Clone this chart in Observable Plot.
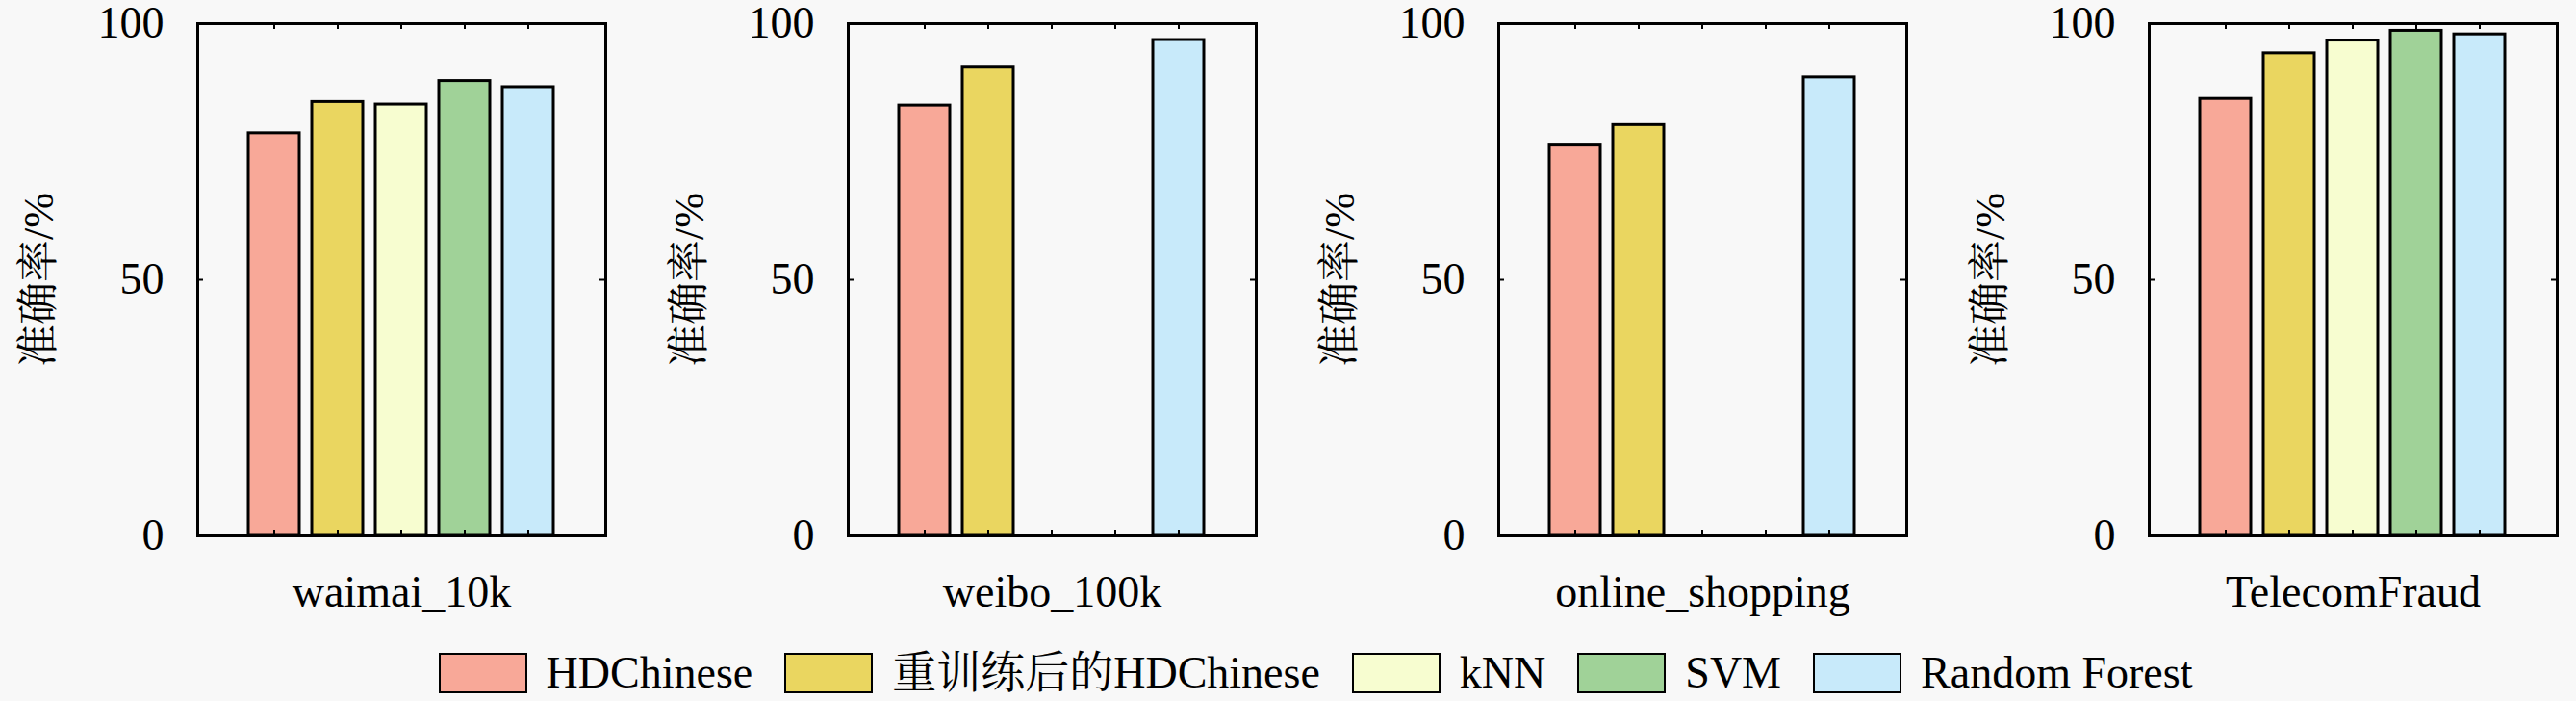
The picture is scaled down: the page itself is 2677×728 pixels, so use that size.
<!DOCTYPE html>
<html>
<head>
<meta charset="utf-8">
<script src="https://cdn.jsdelivr.net/npm/d3@7"></script>
<script src="https://cdn.jsdelivr.net/npm/@observablehq/plot@0.6"></script>
<style>
  html, body { margin: 0; padding: 0; background: #f8f8f8; }
  body { width: 2677px; height: 728px; overflow: hidden; font-family: 'Liberation Serif', 'Noto Serif CJK SC', serif; }
  #charts { display: flex; flex-direction: row; height: 650px; }
  #legend { display: flex; justify-content: center; align-items: center; height: 46px; margin-top: 26px; margin-left: 90px; font-size: 46px; line-height: 46px; color: #000; font-family: 'Liberation Serif', 'Noto Serif CJK SC', serif; }
  .item { display: flex; align-items: center; margin-right: 33px; height: 46px; }
  .item span { display: inline-block; line-height: 46px; height: 46px; }
  .sw { width: 88px; height: 38px; border: 2px solid #000; margin-right: 20px; }
</style>
</head>
<body>
<div id="charts"></div>
<div id="legend"></div>
<script>
const datasets = ["waimai_10k", "weibo_100k", "online_shopping", "TelecomFraud"];
const models = ["HDChinese", "重训练后的HDChinese", "kNN", "SVM", "Random Forest"];
const colors = ["#f8a898", "#ead660", "#f7fdd0", "#a0d298", "#c8eafa"];
const yTicks = [0, 50, 100];

const hdchinese = [78.6, 84.0, 76.2, 85.3];
const retrained = [84.7, 91.4, 80.2, 94.2];
const knn = [84.2, null, null, 96.7];
const svm = [88.8, null, null, 98.6];
const randomForest = [87.6, 96.8, 89.5, 97.9];

const series = [hdchinese, retrained, knn, svm, randomForest];

const font = "'Liberation Serif', 'Noto Serif CJK SC', serif";
const W = 676, H = 650, ML = 205, MR = 47, MT = 24, MB = 94;
const frameW = W - ML - MR, frameH = H - MT - MB;

const container = document.getElementById("charts");
datasets.forEach((ds, di) => {
  const rows = models.map((m, mi) => ({model: m, value: series[mi][di]})).filter(d => d.value != null);
  const chart = Plot.plot({
    width: W, height: H,
    marginLeft: ML, marginRight: MR, marginTop: MT, marginBottom: MB,
    style: {background: "transparent", fontFamily: font, fontSize: "44px", color: "#000", overflow: "visible"},
    x: {domain: models, paddingInner: 0.19, paddingOuter: 0.77, axis: null},
    y: {domain: [0, 100], axis: null},
    color: {domain: models, range: colors},
    marks: [
      Plot.barY(rows, {x: "model", y: "value", fill: "model", stroke: "#000", strokeWidth: 3}),
      Plot.tickY([50], {y: d => d, stroke: "#000", strokeWidth: 2, insetRight: frameW - 6}),
      Plot.tickY([50], {y: d => d, stroke: "#000", strokeWidth: 2, insetLeft: frameW - 6}),
      Plot.tickX(models, {x: d => d, stroke: "#000", strokeWidth: 2, insetBottom: frameH - 6}),
      Plot.tickX(models, {x: d => d, stroke: "#000", strokeWidth: 2, insetTop: frameH - 6}),
      Plot.frame({stroke: "#000", strokeWidth: 3}),
      Plot.axisY({ticks: yTicks, tickSize: 0, tickPadding: 35, tickFormat: d => String(d), label: null, fontSize: 46, fontFamily: font}),
      Plot.text(["准确率/%"], {text: d => d, frameAnchor: "left", rotate: -90, dx: -165, fontSize: 44, fontFamily: font, textAnchor: "middle", lineAnchor: "middle", fill: "#000"}),
      Plot.text([ds], {text: d => d, frameAnchor: "bottom", dy: 59, fontSize: 46, fontFamily: font, textAnchor: "middle", lineAnchor: "middle", fill: "#000"})
    ]
  });
  container.appendChild(chart);
});

const legend = document.getElementById("legend");
models.forEach((m, i) => {
  const item = document.createElement("div");
  item.className = "item";
  const sw = document.createElement("div");
  sw.className = "sw";
  sw.style.background = colors[i];
  const label = document.createElement("span");
  label.textContent = m;
  item.appendChild(sw);
  item.appendChild(label);
  legend.appendChild(item);
});
</script>
</body>
</html>
